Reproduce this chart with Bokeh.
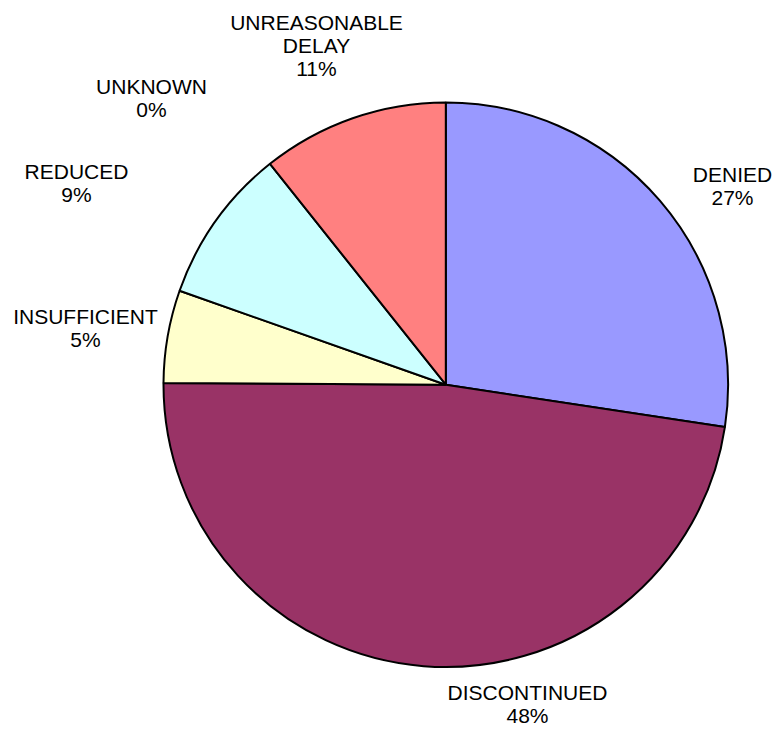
import math
from bokeh.plotting import figure
from bokeh.models import Range1d, ColumnDataSource
from bokeh.core.properties import value
from bokeh.embed import file_html
from bokeh.resources import INLINE

# ---- data ----
categories = ["DENIED", "DISCONTINUED", "INSUFFICIENT", "REDUCED", "UNKNOWN", "UNREASONABLE\nDELAY"]
shares = [27.4, 47.7, 5.3, 8.9, 0.0, 10.7]
colors = ["#9999FF", "#993366", "#FFFFCC", "#CCFFFF", "#660066", "#FF8080"]

# ---- layout (pixels) ----
W, H = 778, 731
CX, CY = 445.3, 346.8      # pie centre in plot coordinates (y up)
R = 282.3
# label block centre offsets from pie centre (dx, dy up)
label_offsets = [(286.7, 199.2), (81.7, -319.1), (-360.3, 56.9),
                 (-369.3, 201.9), (-294.3, 286.6), (-129.3, 338.9)]

total = sum(shares)
starts, ends = [], []
cum = 0.0
for s in shares:
    starts.append(math.pi / 2 - 2 * math.pi * cum / total)
    cum += s
    ends.append(math.pi / 2 - 2 * math.pi * cum / total)

idx = [i for i, s in enumerate(shares) if s > 0]
wedges = ColumnDataSource(dict(
    start=[starts[i] for i in idx],
    end=[ends[i] for i in idx],
    color=[colors[i] for i in idx],
))

labels = ColumnDataSource(dict(
    x=[CX + dx for dx, dy in label_offsets],
    y=[CY + dy for dx, dy in label_offsets],
    text=[f"{c}\n{round(100 * s / total):d}%" for c, s in zip(categories, shares)],
))

p = figure(width=W, height=H, output_backend="svg", toolbar_location=None,
           x_axis_type=None, y_axis_type=None, min_border=0,
           x_range=Range1d(0, W), y_range=Range1d(0, H))
p.outline_line_color = None
p.background_fill_color = "white"
p.border_fill_color = "white"

p.wedge(x=CX, y=CY, radius=R, start_angle="start", end_angle="end",
        direction="clock", fill_color="color", line_color="black",
        line_width=2, source=wedges)

p.text(x="x", y="y", text="text", source=labels, text_align="center",
       text_baseline="middle", text_font=value("Liberation Sans"),
       text_font_size="21px", text_color="black", text_line_height=1.0)

open("out.html", "w").write(file_html(p, INLINE))
